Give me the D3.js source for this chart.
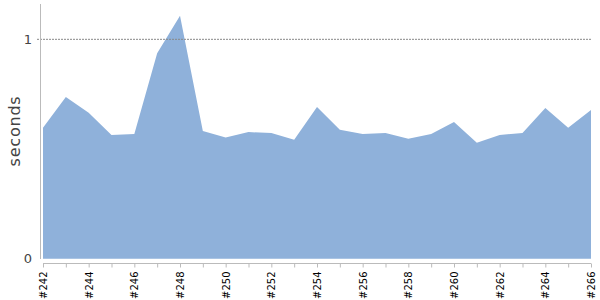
<!DOCTYPE html>
<html>
<head>
<meta charset="utf-8">
<script src="https://cdn.jsdelivr.net/npm/d3@7"></script>
<style>
  body { margin: 0; background: #fff; }
  svg { font-family: "DejaVu Sans", sans-serif; }
</style>
</head>
<body>
<svg id="chart" width="600" height="300"></svg>
<script>
// builds #242 .. #266
let builds = d3.range(242, 267).map(n => "#" + n);
let seconds = [0.597, 0.737, 0.665, 0.564, 0.568, 0.936, 1.108, 0.582, 0.552, 0.577,
               0.573, 0.542, 0.691, 0.588, 0.568, 0.573, 0.547, 0.568, 0.623, 0.529,
               0.564, 0.573, 0.687, 0.597, 0.678];
let yTicks = [0, 1];

let svg = d3.select("#chart");

let x = d3.scalePoint().domain(builds).range([43, 591]);
let y = d3.scaleLinear().domain([0, 1.161]).range([258.7, 4]);

let data = builds.map((b, i) => ({ build: b, value: seconds[i] }));

// area
svg.append("path")
    .datum(data)
    .attr("fill", "#8fb1da")
    .attr("d", d3.area()
        .x(d => x(d.build))
        .y0(y(0))
        .y1(d => y(d.value)));

// dashed line at 1
svg.append("line")
    .attr("x1", 37).attr("x2", 591)
    .attr("y1", y(1)).attr("y2", y(1))
    .attr("stroke", "#888")
    .attr("stroke-width", 1)
    .attr("stroke-dasharray", "2,1");

// y axis line
svg.append("line")
    .attr("x1", 40.5).attr("x2", 40.5)
    .attr("y1", 4).attr("y2", 259)
    .attr("stroke", "#bbb");

// y tick labels
svg.selectAll(".ylab")
    .data(yTicks)
    .enter()
    .append("text")
    .attr("class", "ylab")
    .attr("x", 32)
    .attr("y", d => y(d))
    .attr("dy", ".35em")
    .attr("text-anchor", "end")
    .attr("fill", "#444")
    .style("font-size", "13px")
    .text(d => d);

// x axis
let xAxis = d3.axisBottom(x)
    .tickSize(4)
    .tickFormat((d, i) => i % 2 === 0 ? d : "");

let gx = svg.append("g")
    .attr("transform", "translate(0,263.5)")
    .call(xAxis);
gx.select(".domain").attr("stroke", "#bbb").attr("d", "M43,0H591");
gx.selectAll(".tick line").attr("stroke", "#bbb");
gx.selectAll(".tick text")
    .attr("transform", "rotate(-90)")
    .attr("x", -8)
    .attr("y", 0)
    .attr("dy", ".35em")
    .style("text-anchor", "end")
    .style("font-size", "10px")
    .style("font-family", "'DejaVu Sans', sans-serif")
    .attr("fill", "#000");

// axis title
svg.append("text")
    .attr("transform", "translate(20,131) rotate(-90)")
    .attr("text-anchor", "middle")
    .attr("fill", "#444")
    .style("font-size", "16px")
    .style("letter-spacing", "0.8px")
    .text("seconds");
</script>
</body>
</html>
